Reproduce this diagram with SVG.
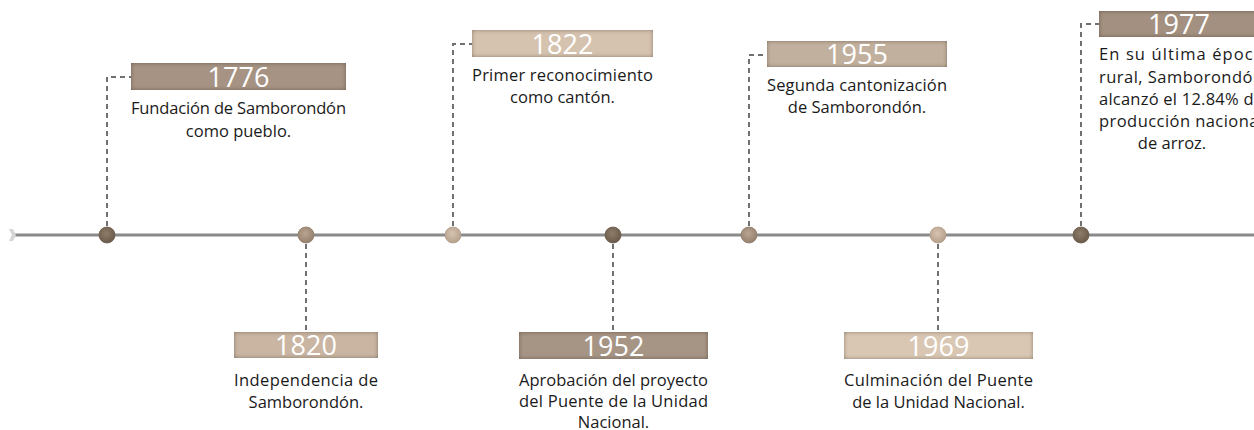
<svg xmlns="http://www.w3.org/2000/svg" width="1254" height="430" viewBox="0 0 1254 430">
<style>
.year{font-family:"Open Sans","Liberation Sans",sans-serif;font-size:27px;fill:#ffffff;text-anchor:middle}
.desc{font-family:"Open Sans","Liberation Sans",sans-serif;font-size:16.5px;fill:#1a1a1a}
.mid{text-anchor:middle}
.conn{fill:none;stroke:#707070;stroke-width:2;stroke-dasharray:5 4}
.axis{stroke:#8a8a8a;stroke-width:3}
.box{filter:url(#inset)}
</style>
<defs>
<filter id="inset" x="-5%" y="-20%" width="110%" height="140%">
<feFlood flood-color="#3e2f22" flood-opacity="0.75" result="f"/>
<feComposite in="f" in2="SourceAlpha" operator="out" result="o"/>
<feGaussianBlur in="o" stdDeviation="2.2" result="b"/>
<feComposite in="b" in2="SourceAlpha" operator="in" result="s"/>
<feMerge><feMergeNode in="SourceGraphic"/><feMergeNode in="s"/></feMerge>
</filter>
<radialGradient id="gDark" cx="0.45" cy="0.4" r="0.6"><stop offset="0" stop-color="#8f7d6a"/><stop offset="1" stop-color="#6a5a49"/></radialGradient>
<radialGradient id="gMed" cx="0.45" cy="0.4" r="0.6"><stop offset="0" stop-color="#b8a491"/><stop offset="1" stop-color="#94806d"/></radialGradient>
<radialGradient id="gLight" cx="0.45" cy="0.4" r="0.6"><stop offset="0" stop-color="#d6c4b1"/><stop offset="1" stop-color="#b49f8a"/></radialGradient>
</defs>
<rect width="1254" height="430" fill="#ffffff"/>

<g id="connectors">
<line class="axis" x1="14" y1="235" x2="1254" y2="235"/>
<polygon points="9,229 13,229 16,235 13,241 9,241 12,235" fill="#d6d6d6"/>
<polyline class="conn" points="107,235 107,77 131,77"/>
<polyline class="conn" points="453,235 453,44 472,44"/>
<polyline class="conn" points="749,235 749,55 767,55"/>
<polyline class="conn" points="1081,235 1081,24 1099,24"/>
<line class="conn" x1="306" y1="235" x2="306" y2="332"/>
<line class="conn" x1="613" y1="235" x2="613" y2="332"/>
<line class="conn" x1="938" y1="235" x2="938" y2="332"/>
</g>

<g id="dots">
<circle cx="107" cy="235" r="8" fill="url(#gDark)" stroke="#6a5a4a" stroke-width="0.8"/>
<circle cx="306" cy="235" r="8" fill="url(#gMed)" stroke="#8f7b68" stroke-width="0.8"/>
<circle cx="453" cy="235" r="8" fill="url(#gLight)" stroke="#b19c88" stroke-width="0.8"/>
<circle cx="613" cy="235" r="8" fill="url(#gDark)" stroke="#6a5a4a" stroke-width="0.8"/>
<circle cx="749" cy="235" r="8" fill="url(#gMed)" stroke="#8f7b68" stroke-width="0.8"/>
<circle cx="938" cy="235" r="8" fill="url(#gLight)" stroke="#b19c88" stroke-width="0.8"/>
<circle cx="1081" cy="235" r="8" fill="url(#gDark)" stroke="#6a5a4a" stroke-width="0.8"/>
</g>

<g id="n1776">
<rect class="box" x="131" y="63" width="215" height="27" fill="#a69383"/>
<text class="year" x="238.5" y="86.5">1776</text>
<text class="desc" x="131" y="114" textLength="215" lengthAdjust="spacing">Fundación de Samborondón</text>
<text class="desc mid" x="238.5" y="137">como pueblo.</text>
</g>

<g id="n1820">
<rect class="box" x="234" y="332" width="144" height="26" fill="#c9b5a2"/>
<text class="year" x="306" y="354.5">1820</text>
<text class="desc" x="234" y="386" textLength="144" lengthAdjust="spacing">Independencia de</text>
<text class="desc mid" x="306" y="408">Samborondón.</text>
</g>

<g id="n1822">
<rect class="box" x="472" y="30" width="181" height="27" fill="#d6c3af"/>
<text class="year" x="562.5" y="53.5">1822</text>
<text class="desc" x="472" y="81" textLength="181" lengthAdjust="spacing">Primer reconocimiento</text>
<text class="desc mid" x="562.5" y="103">como cantón.</text>
</g>

<g id="n1952">
<rect class="box" x="519" y="332" width="189" height="27" fill="#a69484"/>
<text class="year" x="613.5" y="355.5">1952</text>
<text class="desc" x="519" y="386" textLength="189" lengthAdjust="spacing">Aprobación del proyecto</text>
<text class="desc" x="519" y="407" textLength="189" lengthAdjust="spacing">del Puente de la Unidad</text>
<text class="desc mid" x="613.5" y="428">Nacional.</text>
</g>

<g id="n1955">
<rect class="box" x="767" y="41" width="180" height="26" fill="#c2b09e"/>
<text class="year" x="857" y="63.5">1955</text>
<text class="desc" x="767" y="91" textLength="180" lengthAdjust="spacing">Segunda cantonización</text>
<text class="desc mid" x="857" y="113">de Samborondón.</text>
</g>

<g id="n1969">
<rect class="box" x="844" y="332" width="189" height="27" fill="#d9c7b3"/>
<text class="year" x="938.5" y="355.5">1969</text>
<text class="desc" x="844" y="386" textLength="189" lengthAdjust="spacing">Culminación del Puente</text>
<text class="desc mid" x="938.5" y="408">de la Unidad Nacional.</text>
</g>

<g id="n1977">
<rect class="box" x="1099" y="11" width="164" height="26" fill="#a39080"/>
<text class="year" x="1179" y="33.5">1977</text>
<text class="desc" x="1099" y="60" textLength="164" lengthAdjust="spacing">En su última época</text>
<text class="desc" x="1099" y="83" textLength="164" lengthAdjust="spacing">rural, Samborondón</text>
<text class="desc" x="1099" y="105" textLength="164" lengthAdjust="spacing">alcanzó el 12.84% de</text>
<text class="desc" x="1099" y="127" textLength="164" lengthAdjust="spacing">producción nacional</text>
<text class="desc mid" x="1172" y="149">de arroz.</text>
</g>
</svg>
